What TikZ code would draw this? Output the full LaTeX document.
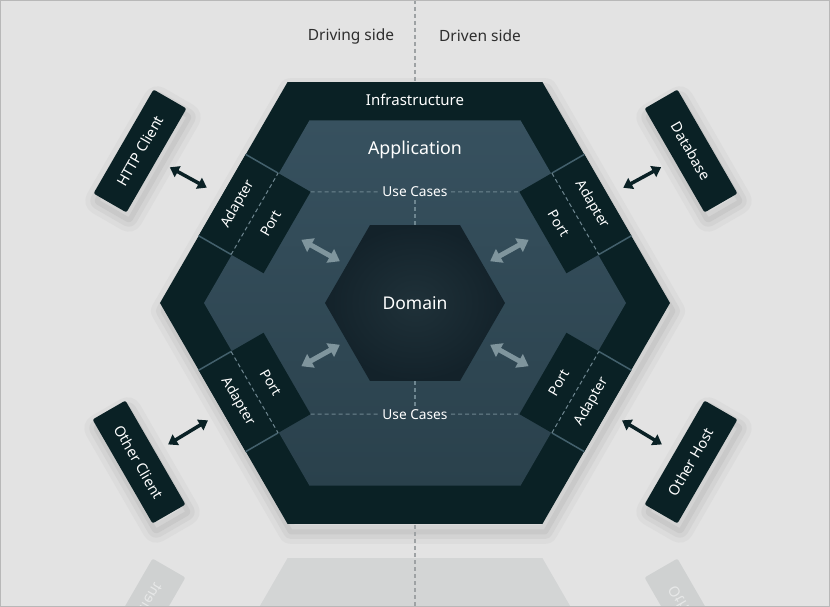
\documentclass[tikz,border=0pt]{standalone}
\usepackage{fontspec}
\setmainfont{Noto Sans}
\usetikzlibrary{shapes.geometric, arrows.meta}
\definecolor{bggray}{HTML}{E3E3E3}
\definecolor{framegray}{HTML}{B8B8B8}
\definecolor{shadowa}{HTML}{DCDCDC}
\definecolor{shadowb}{HTML}{D3D3D3}
\definecolor{shadowc}{HTML}{C9C9C9}
\definecolor{infradark}{HTML}{0A2125}
\definecolor{apptop}{HTML}{37515F}
\definecolor{appbottom}{HTML}{2A414C}
\definecolor{domainin}{HTML}{1F3139}
\definecolor{domainout}{HTML}{13222A}
\definecolor{seplight}{HTML}{43606C}
\definecolor{dashgray}{HTML}{6E8690}
\definecolor{arrowgray}{HTML}{7F959D}
\definecolor{sidetext}{HTML}{2E2E2E}
\definecolor{midgray}{HTML}{9EA2A4}
\tikzstyle{softshadow} = [preaction={draw=shadowa, line width=24pt, line join=round, transform canvas={xshift=3pt,yshift=-8pt}}, preaction={draw=shadowb, line width=14pt, line join=round, transform canvas={xshift=3pt,yshift=-8pt}}, preaction={draw=shadowc, line width=5pt, line join=round, transform canvas={xshift=3pt,yshift=-8pt}}]
\tikzstyle{portbox} = [rectangle, fill=infradark, minimum width=94pt, minimum height=75pt, inner sep=0pt, outer sep=0pt]
\tikzstyle{portlbl} = [text=white, inner sep=0pt, font=\fontsize{14}{16}\selectfont]
\tikzstyle{hostbox} = [rectangle, fill=infradark, rounded corners=2pt, minimum width=120pt, minimum height=38pt, inner sep=0pt, outer sep=0pt, text=white, font=\fontsize{14.5}{16}\selectfont, softshadow]
\tikzstyle{mirrorbox} = [rectangle, fill=infradark, fill opacity=0.09, rounded corners=2pt, minimum width=120pt, minimum height=38pt, inner sep=0pt, text=white, text opacity=0.5, font=\fontsize{14.5}{16}\selectfont]
\tikzstyle{domainhex} = [regular polygon, regular polygon sides=6, minimum size=180pt, inner sep=0pt, outer sep=0pt, shading=radial, inner color=domainin, outer color=domainout, text=white, font=\fontsize{17.5}{20}\selectfont]
\tikzstyle{sepline} = [draw=seplight, line width=1.5pt]
\tikzstyle{divline} = [draw=dashgray, line width=1pt, dash pattern=on 4pt off 3pt]
\tikzstyle{ucdash} = [draw=dashgray, line width=1pt, dash pattern=on 4pt off 3pt]
\tikzstyle{midline} = [draw=midgray, line width=1pt, dash pattern=on 4pt off 3pt]
\tikzstyle{blkarrow} = [<->, >={Triangle[length=9pt,width=12pt]}, line width=3.5pt, draw=infradark, shorten <=15pt, shorten >=17pt]
\tikzstyle{grayarrow} = [<->, >={Triangle[length=11pt,width=15pt]}, line width=5pt, draw=arrowgray, shorten <=8pt, shorten >=16pt]
\tikzstyle{uclbl} = [text=white, font=\fontsize{13.7}{15}\selectfont]
\tikzstyle{sidelbl} = [text=sidetext, font=\fontsize{15.5}{18}\selectfont]

\begin{document}
\begin{tikzpicture}[x=1pt,y=1pt]
\useasboundingbox (-415,-304) rectangle (415,303);
\fill[bggray] (-415,-304) rectangle (415,303);
% shadow of the big hexagon
\path[softshadow] (255,0) -- (127.5,220.8) -- (-127.5,220.8) -- (-255,0) -- (-127.5,-220.8) -- (127.5,-220.8) -- cycle;
% reflection on the floor
\begin{scope}
\clip (-414,-303) rectangle (414,-236);
\begin{scope}[yshift=-476pt, yscale=-1, transform shape]
\fill[infradark, opacity=0.07] (255,0) -- (127.5,220.8) -- (-127.5,220.8) -- (-255,0) -- (-127.5,-220.8) -- (127.5,-220.8) -- cycle;
\node[mirrorbox, rotate=-60] (mirrorclient) at (-276,-159) {Other Client};
\node[mirrorbox, rotate=60] (mirrorhost) at (276,-159) {Other Host};
\end{scope}
\end{scope}
% line between the two sides
\draw[midline] (0,303) -- (0,-304);
\draw[framegray, line width=1pt] (-414.5,-303.5) rectangle (414.5,302.5);
% hexagons
\fill[infradark] (255,0) -- (127.5,220.8) -- (-127.5,220.8) -- (-255,0) -- (-127.5,-220.8) -- (127.5,-220.8) -- cycle;
\shade[top color=apptop, bottom color=appbottom] (211,0) -- (105.5,182.7) -- (-105.5,182.7) -- (-211,0) -- (-105.5,-182.7) -- (105.5,-182.7) -- cycle;
\node[domainhex] (domain) at (0,0) {Domain};
\node[text=white, font=\fontsize{15}{17}\selectfont] (infra) at (0,203) {Infrastructure};
\node[text=white, font=\fontsize{17.8}{20}\selectfont] (app) at (0,153) {Application};
% adapters and ports
\node[portbox, rotate=60] (ulbox) at (-160.4,89.2) {};
\node[portbox, rotate=-60] (urbox) at (160.4,89.2) {};
\node[portbox, rotate=-60] (llbox) at (-160.4,-89.2) {};
\node[portbox, rotate=60] (lrbox) at (160.4,-89.2) {};
\draw[sepline] (ulbox.north west) -- (ulbox.west);
\draw[sepline] (ulbox.north east) -- (ulbox.east);
\draw[sepline] (urbox.north west) -- (urbox.west);
\draw[sepline] (urbox.north east) -- (urbox.east);
\draw[sepline] (llbox.south west) -- (llbox.west);
\draw[sepline] (llbox.south east) -- (llbox.east);
\draw[sepline] (lrbox.south west) -- (lrbox.west);
\draw[sepline] (lrbox.south east) -- (lrbox.east);
\draw[divline] (ulbox.west) -- (ulbox.east);
\draw[divline] (urbox.west) -- (urbox.east);
\draw[divline] (llbox.west) -- (llbox.east);
\draw[divline] (lrbox.west) -- (lrbox.east);
\node[portlbl, rotate=60] (uladapter) at (-176.9,98.7) {Adapter};
\node[portlbl, rotate=60] (ulport) at (-143.9,79.7) {Port};
\node[portlbl, rotate=-60] (uradapter) at (176.9,98.7) {Adapter};
\node[portlbl, rotate=-60] (urport) at (143.9,79.7) {Port};
\node[portlbl, rotate=-60] (lladapter) at (-176.9,-98.7) {Adapter};
\node[portlbl, rotate=-60] (llport) at (-143.9,-79.7) {Port};
\node[portlbl, rotate=60] (lradapter) at (176.9,-98.7) {Adapter};
\node[portlbl, rotate=60] (lrport) at (143.9,-79.7) {Port};
% use cases
\node[uclbl] (uctop) at (0,111.2) {Use Cases};
\node[uclbl] (ucbottom) at (0,-111.2) {Use Cases};
\draw[ucdash] (ulbox.south east) -- (uctop.west);
\draw[ucdash] (uctop.east) -- (urbox.south west);
\draw[ucdash] (uctop.south) -- (domain.north);
\draw[ucdash] (llbox.north east) -- (ucbottom.west);
\draw[ucdash] (ucbottom.east) -- (lrbox.north west);
\draw[ucdash] (ucbottom.north) -- (domain.south);
\draw[grayarrow] (domain) -- (ulbox);
\draw[grayarrow] (domain) -- (urbox);
\draw[grayarrow] (domain) -- (llbox);
\draw[grayarrow] (domain) -- (lrbox);
% outside hosts
\node[hostbox, rotate=60] (httpclient) at (-275,152) {HTTP Client};
\node[hostbox, rotate=-60] (database) at (276,152) {Database};
\node[hostbox, rotate=-60] (otherclient) at (-276,-159) {Other Client};
\node[hostbox, rotate=60] (otherhost) at (276,-159) {Other Host};
\draw[blkarrow] (httpclient) -- (ulbox);
\draw[blkarrow] (database) -- (urbox);
\draw[blkarrow] (otherclient) -- (llbox);
\draw[blkarrow] (otherhost) -- (lrbox);
\node[sidelbl] (driving) at (-64,267) {Driving side};
\node[sidelbl] (driven) at (65,267) {Driven side};
\end{tikzpicture}
\end{document}
